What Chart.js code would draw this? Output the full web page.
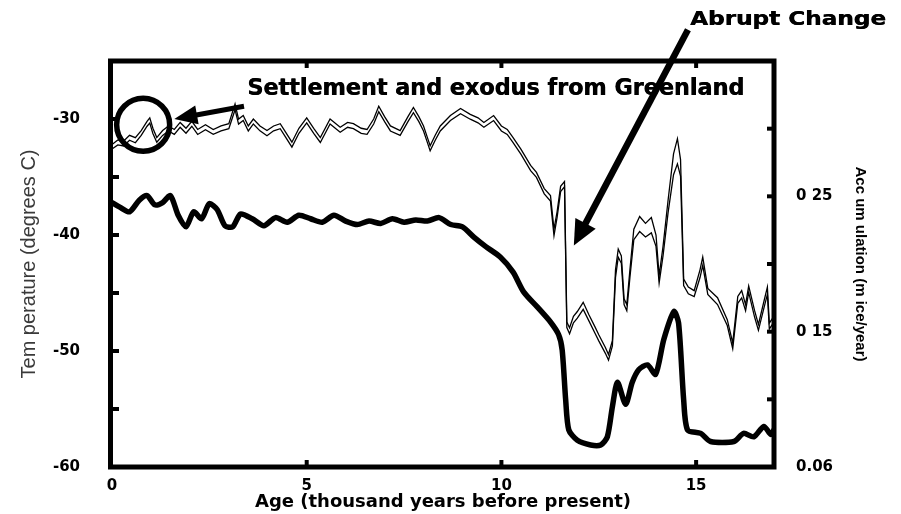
<!DOCTYPE html>
<html><head><meta charset="utf-8">
<script src="https://cdn.jsdelivr.net/npm/chart.js@4.4.1/dist/chart.umd.min.js"></script>
<style>html,body{margin:0;padding:0;background:#fff}#wrap{width:901px;height:514px}</style>
</head><body><div id="wrap"><canvas id="c" width="901" height="514"></canvas></div>
<script>
// ---- data ----
const tempAge = [0,0.2,0.45,0.7,0.9,1.1,1.3,1.5,1.7,1.9,2.1,2.3,2.5,2.7,2.9,3.1,3.3,3.6,3.9,4.2,4.5,4.8,5.1,5.4,5.7,6.0,6.3,6.6,6.9,7.2,7.5,7.8,8.1,8.4,8.7,9.0,9.3,9.6,9.97,10.3,10.57,10.92,11.26,11.47,11.56,11.65,11.73,11.95,12.29,12.55,12.72,12.85,12.98,13.19,13.36,13.53,13.75,13.96,14.17,14.43,14.55,14.68,14.78,15.12,15.37,15.97,16.22,16.48,16.74,16.92,17.0];
const tempValue = [-37.2,-37.6,-38.0,-37.0,-36.6,-37.4,-37.2,-36.6,-38.3,-39.3,-38.0,-38.6,-37.3,-37.8,-39.2,-39.3,-38.2,-38.6,-39.2,-38.5,-38.9,-38.3,-38.6,-38.9,-38.3,-38.8,-39.1,-38.8,-39.0,-38.6,-38.9,-38.7,-38.8,-38.5,-39.1,-39.3,-40.2,-41.0,-41.9,-43.2,-44.9,-46.2,-47.5,-48.6,-49.9,-54.2,-56.8,-57.7,-58.1,-58.1,-57.4,-54.8,-52.7,-54.6,-52.7,-51.6,-51.2,-52.0,-49.0,-46.6,-47.6,-54.2,-56.8,-57.1,-57.8,-57.8,-57.1,-57.4,-56.5,-57.2,-56.8];

const accAge = [0,0.15,0.3,0.45,0.6,0.75,0.9,0.97,1.05,1.15,1.3,1.45,1.6,1.75,1.9,2.05,2.2,2.4,2.6,2.8,3.0,3.16,3.25,3.37,3.5,3.63,3.8,3.98,4.15,4.32,4.47,4.62,4.8,5.0,5.18,5.35,5.6,5.86,6.05,6.2,6.4,6.55,6.72,6.85,7.0,7.15,7.4,7.6,7.74,7.88,8.0,8.1,8.17,8.3,8.43,8.69,8.95,9.2,9.4,9.55,9.8,10.0,10.15,10.3,10.5,10.75,10.9,11.1,11.26,11.35,11.43,11.52,11.62,11.68,11.75,11.85,11.95,12.1,12.25,12.4,12.5,12.67,12.75,12.85,12.93,13.0,13.08,13.15,13.22,13.3,13.4,13.55,13.7,13.85,13.97,14.05,14.15,14.28,14.42,14.52,14.6,14.68,14.8,14.95,15.1,15.17,15.3,15.55,15.8,15.94,16.07,16.17,16.27,16.35,16.5,16.6,16.75,16.83,16.88,17.0];
const accUpper = [0.2883,0.2917,0.2909,0.2951,0.2934,0.2986,0.3054,0.3080,0.3003,0.2934,0.2986,0.3020,0.2994,0.3046,0.3003,0.3054,0.2994,0.3029,0.2994,0.3020,0.3037,0.3183,0.3071,0.3097,0.3020,0.3071,0.3020,0.2986,0.3020,0.3037,0.2969,0.2900,0.3003,0.3080,0.3003,0.2934,0.3071,0.3011,0.3046,0.3037,0.3003,0.2994,0.3071,0.3166,0.3089,0.3020,0.2986,0.3089,0.3157,0.3089,0.3020,0.2934,0.2874,0.2951,0.3020,0.3097,0.3149,0.3106,0.3080,0.3046,0.3097,0.3020,0.2994,0.2934,0.2849,0.2729,0.2677,0.2557,0.2506,0.2257,0.2386,0.2574,0.2609,0.1571,0.1529,0.1614,0.1649,0.1717,0.1623,0.1537,0.1477,0.1383,0.1331,0.1434,0.1957,0.2111,0.2060,0.1743,0.1700,0.1957,0.2257,0.2351,0.2300,0.2343,0.2214,0.1914,0.2129,0.2471,0.2814,0.2926,0.2771,0.1889,0.1829,0.1803,0.1957,0.2051,0.1820,0.1751,0.1589,0.1417,0.1760,0.1803,0.1700,0.1837,0.1657,0.1554,0.1734,0.1829,0.1563,0.1614];
const accLower = [0.2850,0.2880,0.2872,0.2915,0.2896,0.2950,0.3018,0.3042,0.2965,0.2900,0.2950,0.2983,0.2958,0.3010,0.2966,0.3018,0.2957,0.2992,0.2958,0.2984,0.3000,0.3140,0.3034,0.3060,0.2983,0.3035,0.2984,0.2948,0.2984,0.3000,0.2932,0.2864,0.2966,0.3043,0.2966,0.2898,0.3034,0.2974,0.3010,0.3000,0.2966,0.2958,0.3034,0.3125,0.3052,0.2983,0.2950,0.3052,0.3118,0.3052,0.2983,0.2897,0.2836,0.2914,0.2983,0.3060,0.3110,0.3070,0.3043,0.3010,0.3060,0.2983,0.2957,0.2897,0.2812,0.2690,0.2640,0.2518,0.2465,0.2210,0.2345,0.2535,0.2570,0.1530,0.1485,0.1566,0.1600,0.1665,0.1578,0.1490,0.1432,0.1340,0.1290,0.1395,0.1900,0.2050,0.2005,0.1700,0.1655,0.1900,0.2180,0.2240,0.2200,0.2230,0.2130,0.1860,0.2060,0.2380,0.2660,0.2740,0.2650,0.1840,0.1780,0.1760,0.1900,0.1990,0.1775,0.1700,0.1545,0.1375,0.1710,0.1750,0.1655,0.1790,0.1610,0.1510,0.1685,0.1775,0.1520,0.1570];

// ---- ticks ----
const ageTicks = [0,5,10,15];
const ageTickLabels = ['0','5','10','15'];
const tempTicks = [-60,-55,-50,-45,-40,-35,-30,-25];
const tempTickLabels = ['-60','','-50','','-40','','-30',''];
const accTicks = [0.05,0.10,0.15,0.20,0.25,0.30,0.35];
const accTickLabels = ['0.06','','0 15','','0 25','',''];

// ---- annotation texts ----
const noteSettlement = 'Settlement and exodus from Greenland';
const noteAbrupt = 'Abrupt Change';

function pts(xs, ys){ return xs.map((v,i)=>({x:v,y:ys[i]})); }

function wideText(ctx, text, x, y, font, width, bold){
  ctx.font = font;
  const w = ctx.measureText(text).width;
  ctx.save(); ctx.translate(x, y); ctx.scale(width / w, 1);
  ctx.textAlign = 'left'; ctx.textBaseline = 'alphabetic';
  ctx.fillText(text, 0, 0);
  if (bold) ctx.fillText(text, bold, 0);
  ctx.restore();
}
function arrow(ctx, x1, y1, x2, y2, shaftW, headL, headW){
  const a = Math.atan2(y2-y1, x2-x1);
  const bx = x2 - headL*Math.cos(a), by = y2 - headL*Math.sin(a);
  ctx.lineWidth = shaftW; ctx.lineCap = 'butt';
  ctx.beginPath(); ctx.moveTo(x1,y1); ctx.lineTo(bx + Math.cos(a)*2, by + Math.sin(a)*2); ctx.stroke();
  ctx.beginPath(); ctx.moveTo(x2,y2);
  ctx.lineTo(bx + headW/2*Math.sin(a), by - headW/2*Math.cos(a));
  ctx.lineTo(bx - headW/2*Math.sin(a), by + headW/2*Math.cos(a));
  ctx.closePath(); ctx.fill();
}

const decor = {
  id: 'decor',
  afterDatasetsDraw(chart){
    const {ctx, chartArea: a, scales} = chart;
    const x = scales.x, yT = scales.yT, yA = scales.yA;
    ctx.save();
    ctx.strokeStyle = '#000'; ctx.fillStyle = '#000';
    ctx.lineWidth = 5;
    ctx.strokeRect(a.left - 1.5, a.top, a.right - a.left + 1.5, a.bottom - a.top);
    ctx.lineWidth = 4; ctx.lineCap = 'butt';
    const L = 7;
    const seg = (x1,y1,x2,y2)=>{ctx.beginPath();ctx.moveTo(x1,y1);ctx.lineTo(x2,y2);ctx.stroke();};
    yT.ticks.forEach(t=>{const p=yT.getPixelForValue(t.value); if(p>a.top+4&&p<a.bottom-4) seg(a.left,p,a.left+L,p);});
    yA.ticks.forEach(t=>{const p=yA.getPixelForValue(t.value); if(p>a.top+4&&p<a.bottom-4) seg(a.right,p,a.right-L,p);});
    x.ticks.forEach(t=>{const p=x.getPixelForValue(t.value); if(p>a.left+4&&p<a.right-4){seg(p,a.bottom,p,a.bottom-L);seg(p,a.top,p,a.top+L);}});

    // circle around settlement period
    const cx = x.getPixelForValue(0.8), cy = yT.getPixelForValue(-30.5);
    ctx.lineWidth = 5.5;
    ctx.beginPath(); ctx.arc(cx, cy, 26.5, 0, Math.PI*2); ctx.stroke();
    // arrow to circle
    arrow(ctx, x.getPixelForValue(3.39), yT.getPixelForValue(-28.9), x.getPixelForValue(1.6), yT.getPixelForValue(-30.0), 5, 23, 19);
    // texts
    wideText(ctx, noteSettlement, x.getPixelForValue(3.47), yT.getPixelForValue(-27.9), 'bold 23px "DejaVu Sans"', 497, 0.6);
    wideText(ctx, noteAbrupt, x.getPixelForValue(14.84), yT.getPixelForValue(-21.9), 'bold 20px "DejaVu Sans"', 196, 0.5);
    arrow(ctx, x.getPixelForValue(14.79), yT.getPixelForValue(-22.3), x.getPixelForValue(11.86), yT.getPixelForValue(-40.9), 6.5, 25, 23);
    ctx.restore();
  }
};

const tickFont = {family: 'DejaVu Sans', weight: 'bold', size: 15};

new Chart(document.getElementById('c'), {
  type: 'line',
  data: {
    datasets: [
      {label: 'Temperature', data: pts(tempAge, tempValue), yAxisID: 'yT', borderColor: '#000', borderWidth: 5.5, pointRadius: 0, tension: 0.25, borderJoinStyle: 'round', borderCapStyle: 'round', fill: false},
      {label: 'Accumulation (upper)', data: pts(accAge, accUpper), yAxisID: 'yA', borderColor: '#000', borderWidth: 1.3, pointRadius: 0, tension: 0, fill: false},
      {label: 'Accumulation (lower)', data: pts(accAge, accLower), yAxisID: 'yA', borderColor: '#000', borderWidth: 1.3, pointRadius: 0, tension: 0, fill: false}
    ]
  },
  options: {
    responsive: false, animation: false, devicePixelRatio: 1,
    layout: {padding: {top: 61, left: 0, right: 0, bottom: 0}},
    plugins: {legend: {display: false}, tooltip: {enabled: false}},
    scales: {
      x: {
        type: 'linear', position: 'bottom', min: 0, max: 17,
        afterBuildTicks: s => { s.ticks = ageTicks.map(v => ({value: v})); },
        afterFit: s => { s.height = 47; },
        ticks: {font: tickFont, color: '#000', padding: 2, autoSkip: false, maxRotation: 0, callback: (v, i) => ageTickLabels[i]},
        grid: {display: false}, border: {display: false},
        title: {display: true, text: 'Age (thousand years before present)', color: '#000', font: {family: 'DejaVu Sans', weight: 'bold', size: 18}, padding: {top: 0, bottom: 1}}
      },
      yT: {
        type: 'linear', position: 'left', min: -60, max: -25,
        afterBuildTicks: s => { s.ticks = tempTicks.map(v => ({value: v})); },
        afterFit: s => { s.width = 112; },
        ticks: {font: tickFont, color: '#000', padding: 24, autoSkip: false, callback: (v, i) => tempTickLabels[i]},
        grid: {display: false}, border: {display: false},
        title: {display: true, text: 'Tem perature (degrees C)', color: '#3a3a3a', font: {family: 'Liberation Sans', weight: 'normal', size: 20}, padding: {top: 17}}
      },
      yA: {
        type: 'linear', position: 'right', min: 0.05, max: 0.35,
        afterBuildTicks: s => { s.ticks = accTicks.map(v => ({value: v})); },
        afterFit: s => { s.width = 127; },
        ticks: {font: tickFont, color: '#000', padding: 14, autoSkip: false, callback: (v, i) => accTickLabels[i]},
        grid: {display: false}, border: {display: false},
        title: {display: true, text: 'Acc um ulation (m ice/year)', color: '#000', font: {family: 'Liberation Sans', weight: 'bold', size: 15}, padding: {top: 32}}
      }
    }
  },
  plugins: [decor]
});
</script></body></html>
